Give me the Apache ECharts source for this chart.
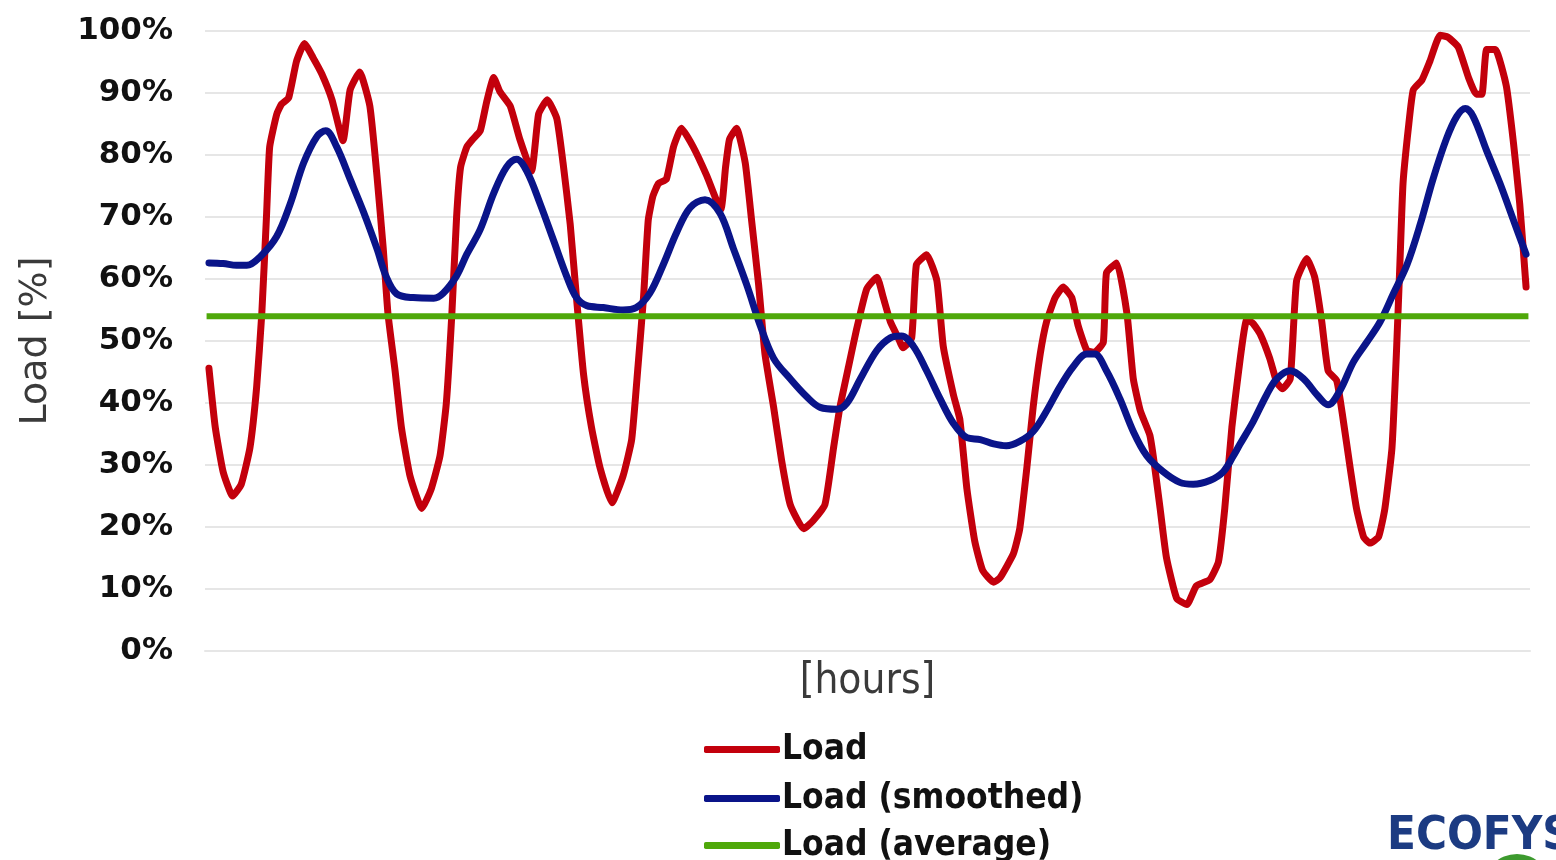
<!DOCTYPE html>
<html>
<head>
<meta charset="utf-8">
<script src="https://cdn.jsdelivr.net/npm/echarts@6/dist/echarts.min.js"></script>
<style>
html,body{margin:0;padding:0;background:#fff;}
#chart{width:1556px;height:860px;}
</style>
</head>
<body>
<div id="chart"></div>
<script>
// ---- data ----
const seriesNames = ['Load', 'Load (smoothed)', 'Load (average)'];

const loadHours = [0.5,1.3,2.3,3.5,4.6,5.7,6.55,7.2,7.8,8.2,9.1,9.7,10.6,11.6,12.6,13.7,14.8,16.1,17.5,18.4,19.6,20.9,21.8,22.6,23.2,24.1,24.9,26.0,27.5,28.7,29.8,30.6,31.3,31.9,32.4,33.2,34.0,34.9,35.7,36.6,37.4,38.7,39.9,41.4,42.3,43.4,44.6,45.4,46.3,47.1,48.0,49.0,50.1,51.6,53.0,54.1,54.9,55.6,56.2,56.8,57.5,58.5,59.4,60.4,61.9,63.6,65.4,66.0,66.5,67.4,68.5,69.3,70.2,71.0,72.1,73.1,74.2,75.9,77.1,78.6,79.7,80.5,81.6,82.6,83.9,85.2,86.0,86.9,87.9,88.5,89.6,90.2,91.5,92.8,93.6,94.9,95.7,96.6,97.6,98.6,100.0,100.8,102.5,103.3,104.2,105.0,105.9,106.7,107.8,108.8,109.9,110.7,111.8,112.8,113.9,114.3,115.6,116.9,117.7,118.6,119.8,120.3,121.1,121.9,123.2,124.5,125.7,127.4,128.5,129.3,130.2,131.0,132.1,132.9,133.8,135.0,135.9,136.6,137.6,138.4,139.7,140.7,141.6,142.4,143.5,144.3,145.2,146.0,146.9,147.7,148.8,149.6,150.5,151.1,151.5,151.9,152.6,153.2,154.3,155.3,156.6,157.6,158.9,160.2,161.2,161.9,162.5,163.6,165.0,165.9,166.7,167.5];
const loadPct = [45.6,36.1,28.9,25.0,26.9,32.8,42.6,54.4,70.2,81.3,86.6,88.2,89.2,95.1,98.0,95.7,93.1,88.9,82.3,90.5,93.4,87.9,76.7,64.9,54.4,45.2,36.1,28.2,23.0,26.2,31.5,40.0,54.4,70.0,78.0,81.3,82.6,83.9,88.5,92.5,90.2,87.9,82.6,77.4,86.6,88.9,85.9,78.7,68.9,57.0,44.6,36.1,29.5,23.9,28.2,34.1,45.9,57.0,69.5,73.4,75.4,76.1,81.3,84.3,81.3,76.7,71.2,78.0,82.5,84.3,78.7,69.5,59.0,47.9,39.3,30.8,23.6,19.7,21.0,23.6,32.8,39.3,45.9,51.8,58.4,60.3,57.0,53.1,50.5,48.9,50.5,62.3,63.9,59.7,49.2,41.3,37.4,26.2,17.7,13.0,11.1,11.8,15.7,19.7,29.5,39.3,47.9,53.1,57.0,58.7,57.0,52.5,48.5,48.2,49.8,61.0,62.6,54.4,43.9,38.7,34.8,30.8,23.0,15.1,8.5,7.5,10.5,11.5,14.4,23.0,36.1,44.6,53.5,52.8,51.1,47.2,43.3,42.3,43.9,59.7,63.3,60.3,53.1,45.2,43.6,37.4,29.5,23.0,18.4,17.4,18.4,23.0,32.8,49.2,62.3,75.4,84.6,90.5,92.1,95.1,99.3,99.0,97.4,92.5,89.8,89.8,97.0,97.0,91.1,82.0,72.1,58.7];

const smoothHours = [0.5,2.3,4.0,5.3,7.0,9.1,10.8,12.5,14.2,15.3,16.7,18.4,20.1,21.8,23.0,24.3,26.4,29.0,30.2,31.9,33.2,34.9,36.6,38.2,39.5,40.8,42.5,44.2,45.9,47.1,48.4,50.5,53.0,54.7,56.4,58.1,59.8,61.5,63.4,65.3,67.0,68.7,70.4,72.1,74.2,76.3,78.0,80.1,81.4,83.1,85.2,86.9,88.3,89.8,91.5,93.2,94.9,96.6,98.3,100.0,101.6,103.3,105.0,106.7,108.4,110.1,111.8,112.8,114.3,116.0,117.7,119.4,121.5,123.6,125.3,127.4,129.1,130.4,131.2,132.9,134.6,135.9,137.6,139.3,141.0,142.4,143.9,145.6,147.3,149.0,150.7,152.4,154.1,155.7,157.4,158.7,159.8,160.8,162.5,164.2,165.9,167.5];
const smoothPct = [62.6,62.5,62.2,62.2,63.6,66.9,72.1,78.7,83.0,83.9,81.3,76.1,70.8,64.9,60.3,57.6,57.0,56.9,57.7,60.5,64.0,68.0,73.8,78.0,79.3,77.4,72.1,66.2,60.3,57.0,55.7,55.4,55.0,55.4,57.7,62.3,67.5,71.5,72.8,70.6,64.9,59.0,52.5,47.2,43.9,41.0,39.3,39.0,40.0,43.9,48.5,50.5,50.8,49.2,45.2,40.7,36.7,34.4,34.1,33.4,33.1,33.8,35.4,38.7,42.6,45.9,47.9,47.9,45.2,40.7,35.4,31.5,28.9,27.2,26.9,27.5,28.9,31.5,33.3,37.0,41.3,43.9,45.2,43.9,41.3,39.7,42.0,46.6,49.8,53.1,57.7,62.3,68.9,76.1,82.6,86.2,87.5,86.2,80.7,75.4,69.5,64.0];

const averageHours = [0.2, 167.8];
const averagePct = [54, 54];

const yTickValues = [0,10,20,30,40,50,60,70,80,90,100];
const xAxisTitle = '[hours]';
const yAxisTitle = 'Load [%]';
const logoText = 'ECOFYS';

const colors = ['#c3000c', '#0a1489', '#4fa80a'];

const pairs = (xs, ys) => xs.map((x, i) => [x, ys[i]]);

const legendRowTops = [732, 781, 828];
const legendStyle = {
  orient: 'vertical', left: 704, padding: 0,
  itemWidth: 76, itemHeight: 7, icon: 'roundRect',
  textStyle: { fontFamily: 'DejaVu Sans Condensed, DejaVu Sans, sans-serif', fontWeight: 'bold', fontSize: 35, lineHeight: 34, color: '#111', padding: [0, 0, 0, -3] }
};

const chart = echarts.init(document.getElementById('chart'));
chart.setOption({
  animation: false,
  backgroundColor: '#ffffff',
  color: colors,
  grid: { left: 205, right: 26, top: 31, bottom: 209, containLabel: false },
  xAxis: {
    type: 'value', min: 0, max: 168,
    name: xAxisTitle, nameLocation: 'middle', nameGap: 10,
    nameTextStyle: { fontFamily: 'DejaVu Sans Condensed, DejaVu Sans, sans-serif', fontSize: 42, color: '#3a3a3a', verticalAlign: 'top' },
    axisLine: { show: true, lineStyle: { color: '#e6e6e6', width: 2 } },
    axisTick: { show: false }, axisLabel: { show: false }, splitLine: { show: false }
  },
  yAxis: {
    type: 'value', min: yTickValues[0], max: yTickValues[yTickValues.length - 1], interval: 10,
    name: yAxisTitle, nameLocation: 'middle', nameRotate: 90, nameGap: 150,
    nameTextStyle: { fontFamily: 'DejaVu Sans, sans-serif', fontSize: 38, color: '#3a3a3a' },
    axisLine: { show: false }, axisTick: { show: false },
    axisLabel: { formatter: '{value}%', margin: 32, fontFamily: 'DejaVu Sans, sans-serif', fontWeight: 'bold', fontSize: 31, color: '#111' },
    splitLine: { show: true, lineStyle: { color: '#e6e6e6', width: 2 } }
  },
  legend: seriesNames.map((n, i) => Object.assign({}, legendStyle, { top: legendRowTops[i], data: [n] })),
  series: [
    { name: seriesNames[0], type: 'line', data: pairs(loadHours, loadPct), symbol: 'none', smooth: 0.15,
      lineStyle: { width: 7, color: colors[0], cap: 'round', join: 'round' } },
    { name: seriesNames[1], type: 'line', data: pairs(smoothHours, smoothPct), symbol: 'none', smooth: 0.35,
      lineStyle: { width: 7, color: colors[1], cap: 'round', join: 'round' } },
    { name: seriesNames[2], type: 'line', data: pairs(averageHours, averagePct), symbol: 'none',
      lineStyle: { width: 6, color: colors[2] } }
  ],
  graphic: [
    { type: 'circle', shape: { cx: 1517, cy: 888, r: 34 }, style: { fill: '#3d9a2e' }, z: 1 },
    { type: 'text', left: 1387, top: 813, z: 2,
      style: { text: logoText, font: 'bold 47px "Liberation Sans Narrow", "DejaVu Sans Condensed", sans-serif', fill: '#1c3b82' } }
  ]
});
</script>
</body>
</html>
